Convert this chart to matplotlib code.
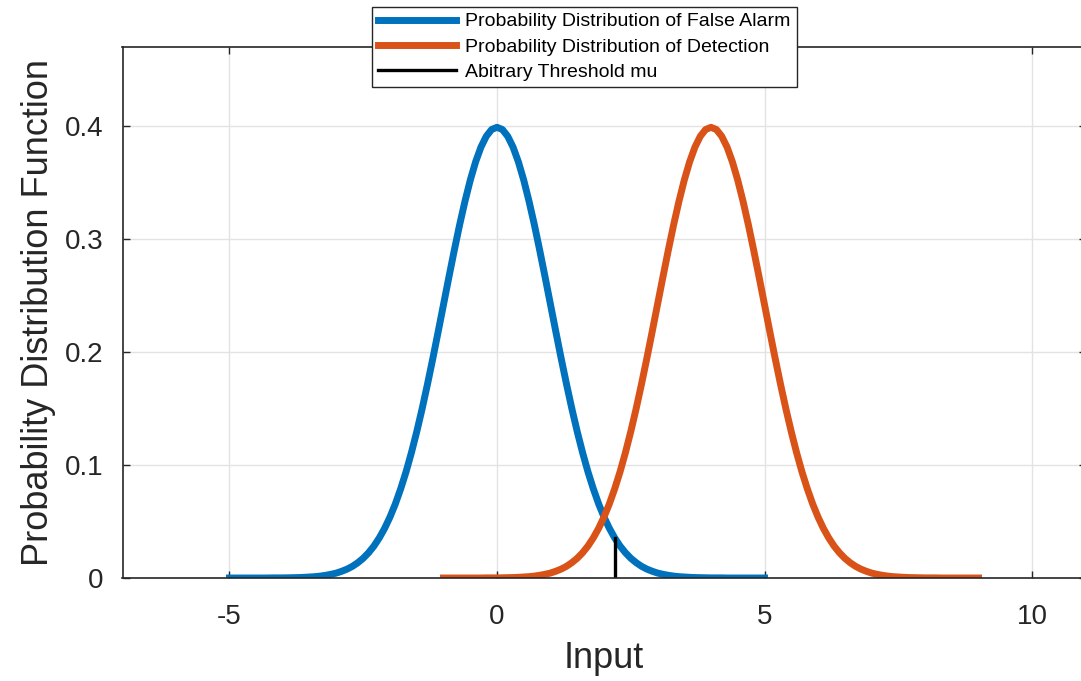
import matplotlib
matplotlib.use('Agg')
import matplotlib.pyplot as plt

plt.rcParams['font.family'] = ['Liberation Sans', 'DejaVu Sans']

# 读取的数据: 半边曲线 (x = 0, 0.1, ..., 5), 两条曲线形状相同
half_pdf = [0.3989, 0.3970, 0.3910, 0.3814, 0.3683, 0.3521, 0.3332, 0.3123,
            0.2897, 0.2661, 0.2420, 0.2179, 0.1942, 0.1714, 0.1497, 0.1295,
            0.1109, 0.0940, 0.0790, 0.0656, 0.0540, 0.0440, 0.0355, 0.0283,
            0.0224, 0.0175, 0.0136, 0.0104, 0.0079, 0.0060, 0.0044, 0.0033,
            0.0024, 0.0017, 0.0012, 0.0009, 0.0006, 0.0004, 0.0003, 0.0002,
            0.0001, 0.0001, 0.0001, 0.0000, 0.0000, 0.0000, 0.0000, 0.0000,
            0.0000, 0.0000, 0.0000]
x_fa = [round(-5 + 0.1 * i, 1) for i in range(101)]
y_fa = half_pdf[::-1] + half_pdf[1:]
x_det = [round(-1 + 0.1 * i, 1) for i in range(101)]
y_det = list(y_fa)
threshold_x = [2.2, 2.2]
threshold_y = [0.0, 0.0355]

labels = ['Probability Distribution of False Alarm',
          'Probability Distribution of Detection',
          'Abitrary Threshold mu']

W, H = 1081, 681
fig = plt.figure(figsize=(W / 100, H / 100), dpi=100)
ax = fig.add_axes([122.5 / W, 1 - 578 / H, 963 / W, 531 / H])

ax.plot(x_fa, y_fa, color='#0072BD', lw=5, label=labels[0])
ax.plot(x_det, y_det, color='#D95319', lw=5, label=labels[1])
ax.plot(threshold_x, threshold_y, color='black', lw=2.4, label=labels[2])

ax.set_xlim(-7, 11)
ax.set_ylim(0, 0.47)
ax.set_xticks([-5, 0, 5, 10])
ax.set_yticks([0, 0.1, 0.2, 0.3, 0.4])
ax.set_xticklabels(['-5', '0', '5', '10'])
ax.set_yticklabels(['0', '0.1', '0.2', '0.3', '0.4'])
ax.grid(True, color='#e3e3e3', lw=1)
ax.set_axisbelow(True)
ax.tick_params(direction='in', length=5, width=1, colors='#262626',
               labelsize=20, top=True, right=True)
ax.tick_params(axis='x', pad=19)
ax.tick_params(axis='y', pad=14)
for s in ax.spines.values():
    s.set_color('#262626')
    s.set_linewidth(1.2)

ax.set_xlabel('Input', fontsize=26, color='#262626', labelpad=8)
ax.set_ylabel('Probability Distribution Function', fontsize=26,
              color='#262626', labelpad=6)

leg = fig.legend(loc='upper left', bbox_to_anchor=(372 / W, 1 - 7 / H),
                 fontsize=14, frameon=True, fancybox=False, handlelength=4.0,
                 handletextpad=0.5, borderpad=0.3, labelspacing=0.4,
                 borderaxespad=0)
leg.get_frame().set_edgecolor('#262626')
leg.get_frame().set_linewidth(1)
leg.get_frame().set_alpha(1)

fig.savefig('out.png', dpi=100)
